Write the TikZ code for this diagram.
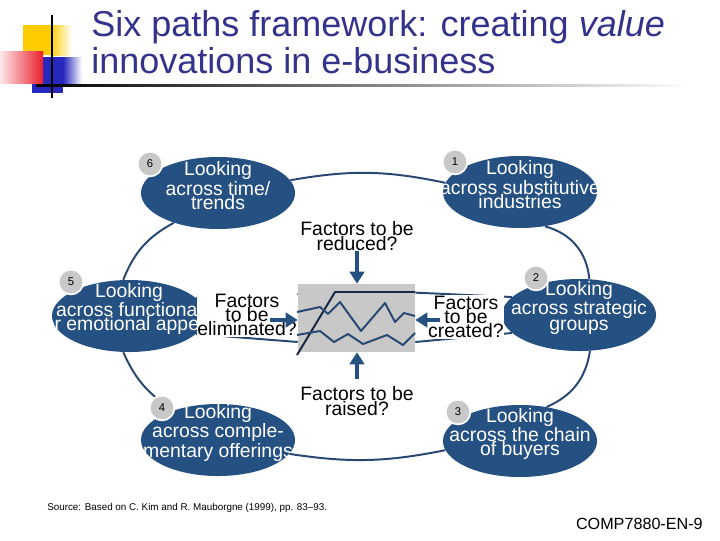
\documentclass[tikz,border=0pt]{standalone}
\usepackage{fontspec}
\setmainfont{Liberation Sans}
\usepackage{xcolor}
\definecolor{spTitle}{RGB}{51, 51, 140}
\definecolor{spBlue}{RGB}{36, 80, 130}
\definecolor{spLine}{RGB}{40, 72, 115}
\definecolor{spDark}{RGB}{25, 38, 68}
\definecolor{spGray}{RGB}{200, 200, 200}
\definecolor{spYellow}{RGB}{255, 204, 0}
\definecolor{spRed}{RGB}{235, 30, 45}
\definecolor{spDeco}{RGB}{40, 40, 190}
\usetikzlibrary{
    shapes.geometric,
    arrows.meta,
    calc
}

\begin{document}
\begin{tikzpicture}[
    x=0.025cm, y=-0.025cm,
    pathNode/.style={
        ellipse, fill=spBlue, inner sep=0pt,
        minimum width=3.85cm, minimum height=1.8cm
    },
    pathText/.style={
        text=white, align=center, inner sep=0pt,
        font=\fontsize{13.8}{10.2}\selectfont
    },
    badgeNode/.style={
        circle, fill=spGray, draw=white, line width=1.2pt,
        minimum size=0.62cm, inner sep=0pt,
        font=\fontsize{8}{8}\selectfont
    },
    factorLabel/.style={
        align=center, inner sep=0.5pt,
        font=\fontsize{13.8}{10.2}\selectfont
    },
    titleText/.style={
        anchor=base west, inner sep=0, text=spTitle,
        font=\fontsize{25.6}{27}\selectfont
    },
    cycleLine/.style={draw=spLine, line width=1.4pt},
    factorArrow/.style={
        -{Triangle[width=0.36cm, length=0.3cm]}, draw=spBlue, line width=2.2pt
    },
    trendLine/.style={line width=1.4pt, line join=round}
]
    \useasboundingbox (0,0) rectangle (720,540);

    % Slide decoration
    \fill[spYellow] (23,25) rectangle (50,55);
    \shade[left color=spYellow, right color=white] (50,25) rectangle (72,55);
    \fill[spDeco] (32,57) rectangle (63,93);
    \shade[left color=spDeco, right color=white] (63,57) rectangle (82,85);
    \shade[left color=spRed!10, right color=spRed] (0,51) rectangle (43,83);
    \shade[left color=black, right color=white] (36,84) rectangle (690,86.5);
    \draw[black, line width=1.5pt] (52,15) -- (52,98);

    % Title
    \node[titleText] (title) at (91,36) {Six paths framework: creating \textit{value}};
    \node[titleText] (titleTwo) at ([yshift=-27pt]title.base west) {innovations in e-business};

    % Six paths
    \node[pathNode] (p6) at (218,193) {};
    \node[pathNode] (p1) at (520,192) {};
    \node[pathNode] (p5) at (129,316) {};
    \node[pathNode] (p2) at (579,315) {};
    \node[pathNode] (p4) at (218,440) {};
    \node[pathNode] (p3) at (520,441) {};

    \node[pathText] (t6) at ([yshift=5pt]p6) {Looking\\across time/\\trends};
    \node[pathText] (t1) at ([yshift=5pt]p1) {Looking\\across substitutive\\industries};
    \node[pathText] (t5) at ([yshift=5pt]p5) {Looking\\across functional\\or emotional appeal};
    \node[pathText] (t2) at ([yshift=5pt]p2) {Looking\\across strategic\\groups};
    \node[pathText] (t4) at ([yshift=5pt]p4) {Looking\\across comple-\\mentary offerings};
    \node[pathText] (t3) at ([yshift=5pt]p3) {Looking\\across the chain\\of buyers};

    % Cycle round the paths
    \draw[cycleLine] (p6.10) to[bend left=11] (p1.173);
    \draw[cycleLine] (p1.-54) to[bend left=35] (p2.74);
    \draw[cycleLine] (p2.-73) to[bend left=29] (p3.52);
    \draw[cycleLine] (p3.187) to[bend left=10] (p4.-11);
    \draw[cycleLine] (p4.146) to[bend left=17] (p5.-99);
    \draw[cycleLine] (p5.99) to[bend left=20] (p6.-146);

    \node[badgeNode] (b6) at (150,164) {6};
    \node[badgeNode] (b1) at (455,162) {1};
    \node[badgeNode] (b5) at (71,282) {5};
    \node[badgeNode] (b2) at (536,278) {2};
    \node[badgeNode] (b4) at (162,408) {4};
    \node[badgeNode] (b3) at (458,412) {3};

    % Value curve box
    \node[rectangle, fill=spGray, minimum width=2.925cm, minimum height=1.7cm,
          inner sep=0pt] (box) at (356.5,318) {};
    \draw[trendLine, spDark] (297,355) -- (335,292) -- (415,292);
    \draw[trendLine, spLine] (297,312) -- (320,307) -- (328,314) -- (340,302)
        -- (361,331) -- (385,303) -- (395,322) -- (404,313) -- (415,316);
    \draw[trendLine, spLine] (297,335) -- (320,331) -- (334,342) -- (348,334)
        -- (363,344) -- (387,335) -- (403,345) -- (415,333);

    % Funnels to the box
    \draw[cycleLine] (p5.15) -- ($(box.north west)!0.15!(box.south west)$);
    \draw[cycleLine] (p5.-15) -- ($(box.north west)!0.85!(box.south west)$);
    \draw[cycleLine] (p2.165) -- ($(box.north east)!0.13!(box.south east)$);
    \draw[cycleLine] (p2.195) -- ($(box.north east)!0.85!(box.south east)$);

    % Factor labels
    \node[factorLabel] (lblRed) at (357,236) {Factors to be\\reduced?};
    \node[factorLabel] (lblRai) at (357,401) {Factors to be\\raised?};
    \node[factorLabel, fill=white] (lblEli) at (247,315) {Factors\\to be\\eliminated?};
    \node[factorLabel, fill=white] (lblCre) at (466,317) {Factors\\to be\\created?};

    \coordinate (eliTail) at (270,320);
    \coordinate (creTail) at (440,320);
    \draw[factorArrow] (lblRed.south) -- (lblRed.south |- box.north);
    \draw[factorArrow, shorten <=5pt] (lblRai.north) -- (lblRai.north |- box.south);
    \draw[factorArrow] (eliTail) -- (eliTail -| box.west);
    \draw[factorArrow] (creTail) -- (creTail -| box.east);

    % Footer
    \node[anchor=base west, inner sep=0, font=\fontsize{7}{8}\selectfont] (src) at (47,510)
        {Source: Based on C. Kim and R. Mauborgne (1999), pp. 83--93.};
    \node[anchor=base east, inner sep=0, font=\fontsize{11.5}{12}\selectfont] (slideNo) at (703,529)
        {COMP7880-EN-9};
\end{tikzpicture}
\end{document}
